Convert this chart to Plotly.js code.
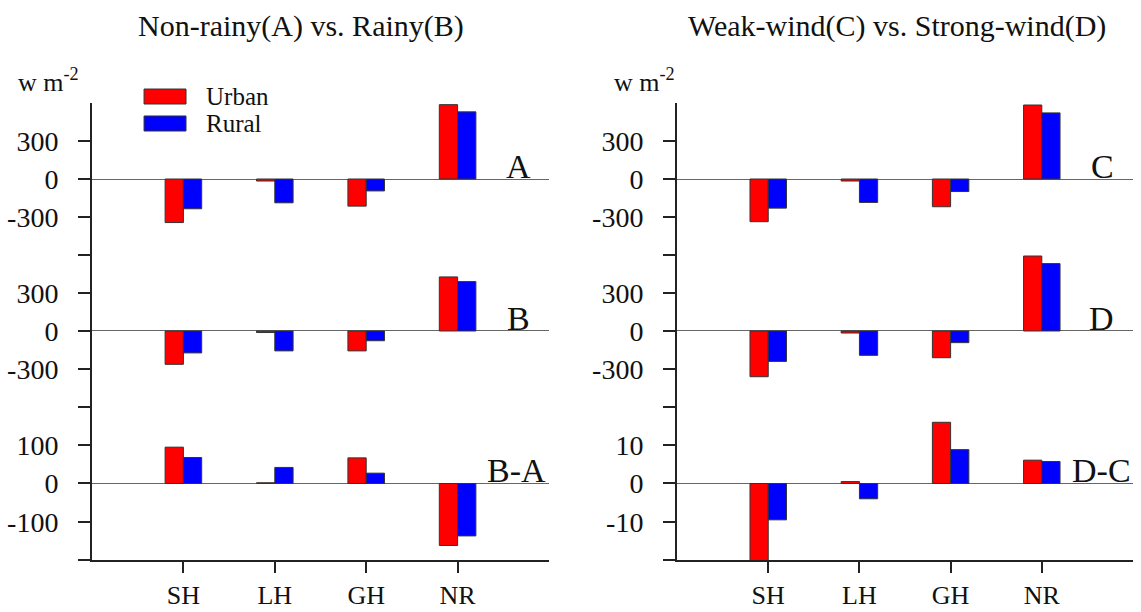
<!DOCTYPE html>
<html>
<head>
<meta charset="utf-8">
<script src="https://cdn.plot.ly/plotly-3.0.1.min.js"></script>
<style>html,body{margin:0;padding:0;background:#fff;}#chart{width:1141px;height:612px;}</style>
</head>
<body>
<div id="chart"></div>
<script>
const categories = ['SH', 'LH', 'GH', 'NR'];
const seriesNames = ['Urban', 'Rural'];
const seriesColors = ['#ff0000', '#0000ff'];

const A_urban = [-344, -16, -214, 587];
const A_rural = [-235, -188, -94, 530];
const B_urban = [-263, -12, -157, 427];
const B_rural = [-173, -157, -77, 390];
const BA_urban = [95, 2, 67, -162];
const BA_rural = [68, 42, 27, -137];

const C_urban = [-337, -16, -219, 584];
const C_rural = [-230, -185, -99, 522];
const D_urban = [-361, -16, -211, 592];
const D_rural = [-240, -192, -92, 532];
const DC_urban = [-21, 0.5, 16.0, 6.1];
const DC_rural = [-9.5, -4.0, 8.85, 5.75];

const bigTicks = [-300, 0, 300];
const bigTickText = ['-300', '0', '300'];
const smallTicksL = [-100, 0, 100];
const smallTicksR = [-10, 0, 10];

const panelTitles = ['Non-rainy(A) vs. Rainy(B)', 'Weak-wind(C) vs. Strong-wind(D)'];
const rowLabels = ['A', 'B', 'B-A', 'C', 'D', 'D-C'];
const unitLabel = 'w m<sup>-2</sup>';

const FONT = 'Liberation Serif, Times New Roman, serif';

const panels = [
  {x: 'x', y: 'y', u: A_urban, r: A_rural},
  {x: 'x', y: 'y2', u: B_urban, r: B_rural},
  {x: 'x', y: 'y3', u: BA_urban, r: BA_rural},
  {x: 'x2', y: 'y4', u: C_urban, r: C_rural},
  {x: 'x2', y: 'y5', u: D_urban, r: D_rural},
  {x: 'x2', y: 'y6', u: DC_urban, r: DC_rural}
];

const traces = [];
panels.forEach(p => {
  [p.u, p.r].forEach((vals, i) => {
    traces.push({
      type: 'bar', x: categories, y: vals, name: seriesNames[i],
      xaxis: p.x, yaxis: p.y, showlegend: false,
      marker: {color: seriesColors[i], line: {color: '#333', width: 1}}
    });
  });
});

const rowDom = [[0.6674, 1], [0.3348, 0.6674], [0, 0.3348]];
const colDom = [[0, 0.439], [0.562, 1]];

function yax(dom, anchor, range, vals, text, minorVals) {
  return {
    domain: dom, anchor: anchor, range: range, fixedrange: true,
    showline: true, linecolor: '#222', linewidth: 2,
    ticks: 'outside', ticklen: 12, tickwidth: 2, tickcolor: '#222',
    tickmode: 'array', tickvals: vals, ticktext: text, ticklabelstandoff: 14,
    minor: {tickmode: 'array', tickvals: minorVals, ticks: 'outside', ticklen: 12,
            tickwidth: 2, tickcolor: '#222', showgrid: false},
    showgrid: false, zeroline: true, zerolinecolor: '#666', zerolinewidth: 1,
    tickfont: {family: FONT, size: 28, color: '#111'}
  };
}

function xax(dom, anchor) {
  return {
    domain: dom, anchor: anchor, type: 'category', range: [-1, 4], fixedrange: true,
    showline: true, linecolor: '#222', linewidth: 2,
    ticks: 'outside', ticklen: 11, tickwidth: 2, tickcolor: '#222',
    showgrid: false, zeroline: false, ticklabelstandoff: 0,
    tickfont: {family: FONT, size: 26, color: '#111'}
  };
}

const annotations = [];
[[0.2008, 0], [0.7733, 1]].forEach(([xp, i]) => {
  annotations.push({xref: 'paper', yref: 'paper', x: xp, y: 1.1685, xanchor: 'center', yanchor: 'middle',
    text: panelTitles[i], showarrow: false, font: {family: FONT, size: 30, color: '#111'}});
});
[-0.073, 0.4995].forEach(xp => {
  annotations.push({xref: 'paper', yref: 'paper', x: xp, y: 1.008, xanchor: 'left', yanchor: 'bottom',
    text: unitLabel, showarrow: false, font: {family: FONT, size: 26, color: '#111'}});
});
const labelY = ['y', 'y2', 'y3', 'y4', 'y5', 'y6'];
const labelX = ['x', 'x', 'x', 'x2', 'x2', 'x2'];
const labelPos = [0.965, 0.962, 0.998, 0.963, 0.963, 1.0];
rowLabels.forEach((t, i) => {
  annotations.push({xref: labelX[i] + ' domain', yref: labelY[i], x: labelPos[i], y: 0,
    xanchor: 'right', yanchor: 'bottom', yshift: -8, text: t, showarrow: false,
    font: {family: FONT, size: 34, color: '#111'}});
});
const legY = [[0.9978, 1.0306], [0.9387, 0.9716]];
const shapes = [];
seriesNames.forEach((n, i) => {
  shapes.push({type: 'rect', xref: 'paper', yref: 'paper', x0: 0.05, x1: 0.0903,
    y0: legY[i][0], y1: legY[i][1], fillcolor: seriesColors[i], line: {color: '#333', width: 1}});
  annotations.push({xref: 'paper', yref: 'paper', x: 0.108, y: (legY[i][0] + legY[i][1]) / 2,
    xanchor: 'left', yanchor: 'middle', text: n, showarrow: false,
    font: {family: FONT, size: 25, color: '#111'}});
});

const layout = {
  width: 1141, height: 612,
  margin: {l: 92, r: 8, t: 103, b: 52},
  paper_bgcolor: '#fff', plot_bgcolor: 'rgba(0,0,0,0)',
  barmode: 'group', bargap: 0.6, bargroupgap: 0,
  showlegend: false,
  font: {family: FONT, color: '#111'},
  xaxis: xax(colDom[0], 'y3'),
  xaxis2: xax(colDom[1], 'y6'),
  yaxis: yax(rowDom[0], 'x', [-600, 600], bigTicks, bigTickText, [-600]),
  yaxis2: yax(rowDom[1], 'x', [-600, 600], bigTicks, bigTickText, [-600, 600]),
  yaxis3: yax(rowDom[2], 'x', [-200, 200], smallTicksL, smallTicksL.map(String), [-200, 200]),
  yaxis4: yax(rowDom[0], 'x2', [-600, 600], bigTicks, bigTickText, [-600]),
  yaxis5: yax(rowDom[1], 'x2', [-600, 600], bigTicks, bigTickText, [-600, 600]),
  yaxis6: yax(rowDom[2], 'x2', [-20, 20], smallTicksR, smallTicksR.map(String), [-20, 20]),
  annotations: annotations,
  shapes: shapes
};

Plotly.newPlot('chart', traces, layout, {displayModeBar: false, staticPlot: true});
</script>
</body>
</html>
